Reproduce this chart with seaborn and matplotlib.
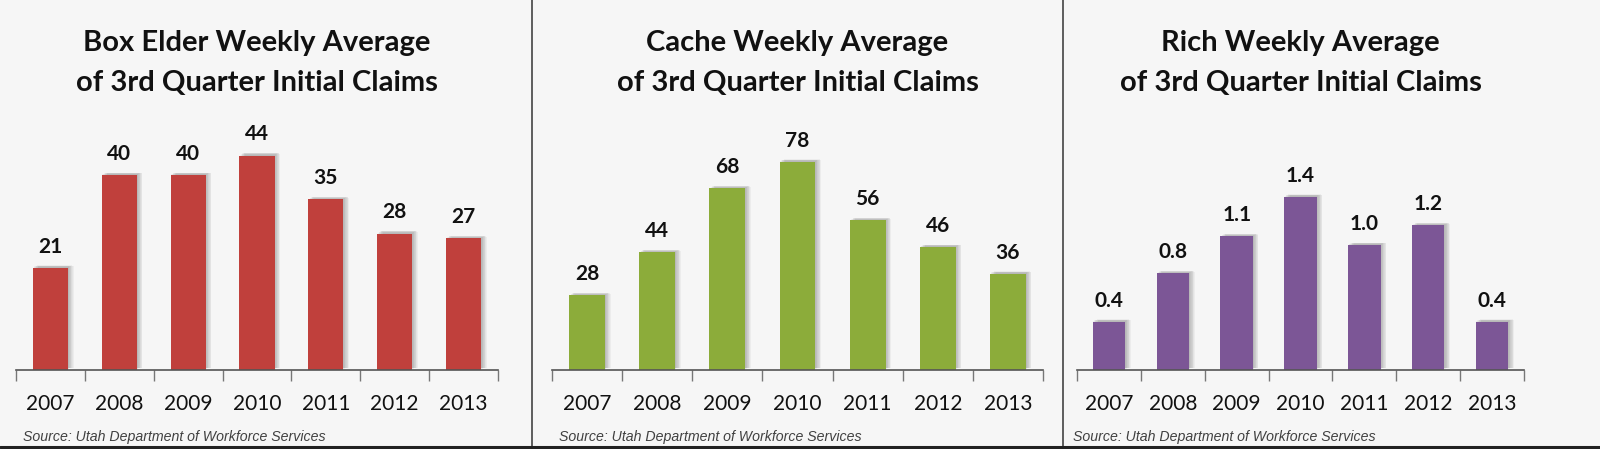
import numpy as np
import pandas as pd
import seaborn as sns
import matplotlib.pyplot as plt
import matplotlib.patheffects as pe
from matplotlib.ticker import FixedLocator

# ---- data ----
years = ['2007', '2008', '2009', '2010', '2011', '2012', '2013']
box_elder = [21, 40, 40, 44, 35, 28, 27]
cache = [28, 44, 68, 78, 56, 46, 36]
rich = [0.39, 0.78, 1.08, 1.40, 1.01, 1.17, 0.39]

titles = ['Box Elder Weekly Average', 'Cache Weekly Average', 'Rich Weekly Average']
subtitle = 'of 3rd Quarter Initial Claims'
source = 'Source: Utah Department of Workforce Services'

# ---- style ----
sns.set_style('white')
plt.rcParams['font.family'] = ['Lato', 'DejaVu Sans']

W, H = 1600, 449
fig = plt.figure(figsize=(16, 4.49), dpi=100, facecolor='#f6f6f6')


def box(x0, x1, ytop, ybot):
    # pixel box (origin top-left) -> figure fraction rect
    return [x0 / W, 1 - ybot / H, (x1 - x0) / W, (ybot - ytop) / H]


panels = [
    dict(vals=box_elder, color='#c0403c', x=(16, 498), ymax=51.3, fmt='{:.0f}', src_x=23),
    dict(vals=cache, color='#8cac3a', x=(552, 1043), ymax=93.6, fmt='{:.0f}', src_x=559),
    dict(vals=rich, color='#7c5696', x=(1077, 1524), ymax=2.02, fmt='{:.1f}', src_x=1073),
]

# soft drop shadow up and to the right of each bar
shadow = [pe.SimplePatchShadow(offset=(dx, dy), shadow_rgbFace='#707070', alpha=0.07)
          for dx, dy in [(0.5, 0.5), (1, 1), (1.5, 1.2), (2, 1.5), (2.5, 1.5),
                         (3, 1.8), (3.5, 1.5), (4, 1.2)]] + [pe.Normal()]

for p, title in zip(panels, titles):
    ax = fig.add_axes(box(p['x'][0], p['x'][1], 120, 370))
    df = pd.DataFrame({'year': years, 'value': p['vals']})
    sns.barplot(data=df, x='year', y='value', color=p['color'], saturation=1,
                width=0.51, linewidth=0, ax=ax)
    for patch in ax.patches:
        patch.set_path_effects(shadow)
    ax.bar_label(ax.containers[0], fmt=p['fmt'], padding=8, fontsize=15,
                 fontweight='bold', color='#111111')

    ax.set_xlim(-0.5, 6.5)
    ax.set_ylim(0, p['ymax'])
    ax.set_facecolor('none')
    for s in ['top', 'right', 'left']:
        ax.spines[s].set_visible(False)
    ax.spines['bottom'].set_color('#555555')
    ax.spines['bottom'].set_linewidth(1.2)
    ax.set_yticks([])
    ax.set_xlabel('')
    ax.set_ylabel('')
    ax.xaxis.set_minor_locator(FixedLocator(np.arange(-0.5, 7, 1)))
    ax.tick_params(axis='x', which='minor', length=8, width=1, color='#777777',
                   direction='out', bottom=True)
    ax.tick_params(axis='x', which='major', length=0, pad=17, labelsize=15,
                   labelcolor='#111111')

    cx = (p['x'][0] + p['x'][1]) / 2 / W
    fig.text(cx, 1 - 50.7 / H, title, ha='center', va='baseline', fontsize=21,
             fontweight='bold', color='#111111')
    fig.text(cx, 1 - 90.7 / H, subtitle, ha='center', va='baseline', fontsize=21,
             fontweight='bold', color='#111111')
    fig.text(p['src_x'] / W, 1 - 441.5 / H, source, ha='left', va='baseline',
             fontsize=10.2, fontstyle='italic', color='#404040',
             family=['Liberation Sans', 'DejaVu Sans'])

# panel dividers and bottom rule
for xd in [532, 1063]:
    fig.add_artist(plt.Line2D([xd / W, xd / W], [1 - 446 / H, 1], color='#444444', lw=1.2))
fig.add_artist(plt.Line2D([0, 1], [1 - 446.5 / H, 1 - 446.5 / H], color='#222222', lw=2.2))

fig.savefig('out.png', dpi=100, facecolor=fig.get_facecolor())
